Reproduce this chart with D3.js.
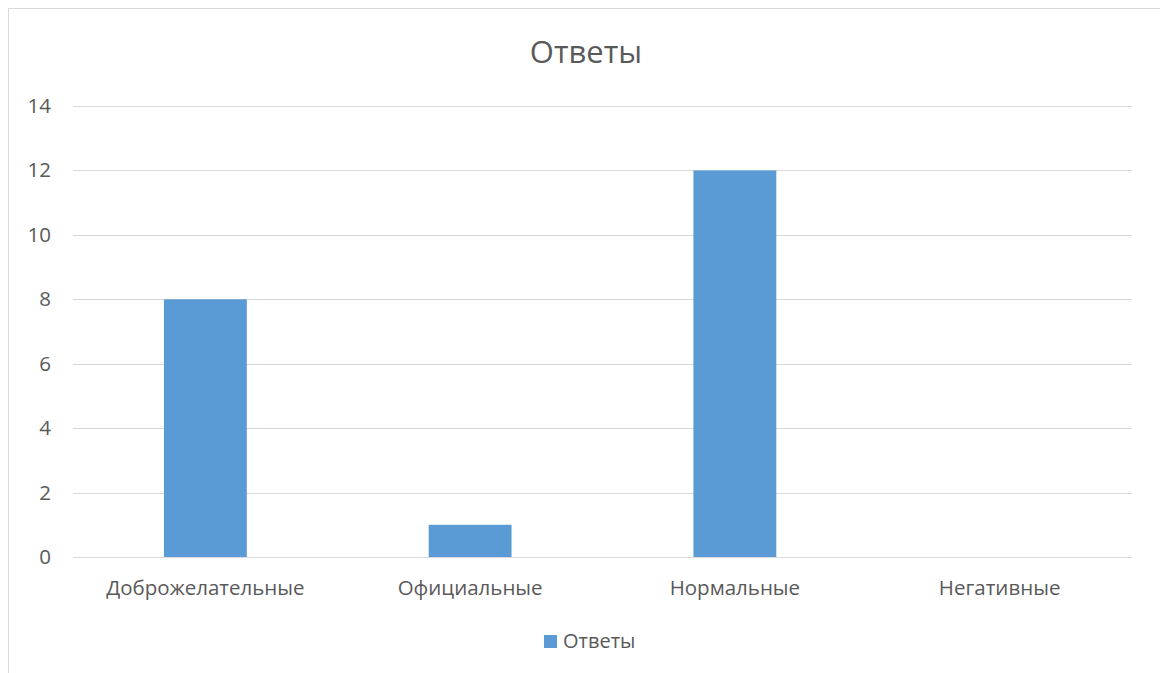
<!DOCTYPE html>
<html><head><meta charset="utf-8">
<script src="https://cdn.jsdelivr.net/npm/d3@7"></script>
<style>body{margin:0;background:#fff}svg{display:block}text{font-family:"Open Sans",sans-serif;fill:#595959}</style>
</head><body>
<script>
const categories = ["Доброжелательные", "Официальные", "Нормальные", "Негативные"];
const values = [8, 1, 12, 0];
const yTicks = [0, 2, 4, 6, 8, 10, 12, 14];
const title = "Ответы";
const seriesName = "Ответы";

const W = 1160, H = 673;
const svg = d3.select("body").append("svg").attr("width", W).attr("height", H);
svg.append("rect").attr("x", 8.5).attr("y", 8.5).attr("width", W).attr("height", H)
  .attr("fill", "#fff").attr("stroke", "#d9d9d9").attr("stroke-width", 1);

const x = d3.scaleBand().domain(categories).range([73, 1132]).padding(0);
const y = d3.scaleLinear().domain([0, 14]).range([557, 106]);
const barW = x.bandwidth() * 0.313;

const g = svg.append("g");
g.selectAll("line.grid").data(yTicks).enter().append("line")
  .attr("x1", 73).attr("x2", 1132)
  .attr("y1", d => Math.round(y(d)) + 0.5).attr("y2", d => Math.round(y(d)) + 0.5)
  .attr("stroke", "#d9d9d9").attr("stroke-width", 1);

const yAxis = d3.axisLeft(y).tickValues(yTicks).tickSize(0).tickPadding(0);
const ya = svg.append("g").attr("transform", "translate(51,0)").call(yAxis);
ya.select(".domain").remove();
ya.selectAll("text").style("font-size", "20.5px").attr("fill", "#595959").attr("text-anchor", "end");

g.selectAll("rect.bar").data(values).enter().append("rect")
  .attr("x", (d, i) => x(categories[i]) + x.bandwidth() / 2 - barW / 2)
  .attr("width", barW)
  .attr("y", d => y(d))
  .attr("height", d => y(0) - y(d))
  .attr("fill", "#5b9bd5");

const xAxis = d3.axisBottom(x).tickSize(0).tickPadding(0);
const xa = svg.append("g").attr("transform", "translate(0,595)").call(xAxis);
xa.select(".domain").remove();
xa.selectAll("text").style("font-size", "20.5px").attr("fill", "#595959").attr("dy", "0");

svg.append("text").attr("x", 586).attr("y", 63).attr("text-anchor", "middle")
  .style("font-size", "31px").text(title);

svg.append("rect").attr("x", 544).attr("y", 635).attr("width", 13).attr("height", 13).attr("fill", "#5b9bd5");
svg.append("text").attr("x", 563).attr("y", 648).style("font-size", "20px").text(seriesName);
</script>
</body></html>
